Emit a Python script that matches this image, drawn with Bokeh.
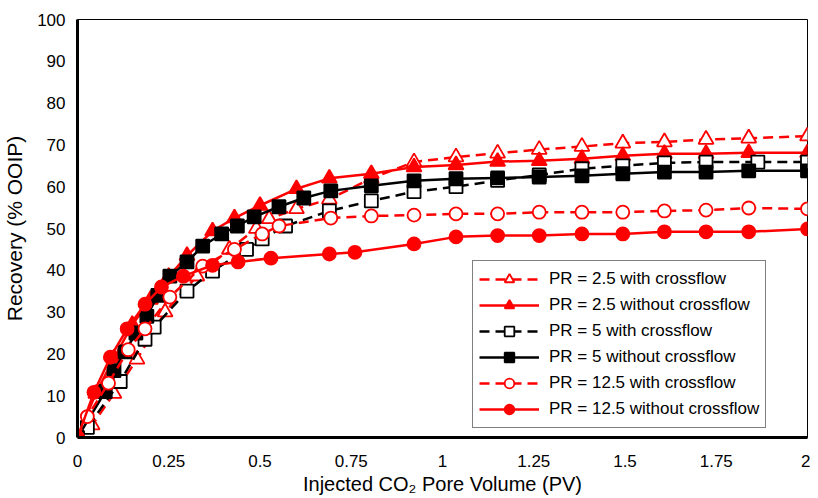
from bokeh.plotting import figure
from bokeh.models import FixedTicker, Legend, LegendItem, Range1d
from bokeh.embed import file_html
from bokeh.resources import INLINE

# ---- data ----
x_pr25_cf = [0, 0.04, 0.1, 0.163, 0.24, 0.327, 0.416, 0.49, 0.525, 0.6, 0.69, 0.805, 0.922, 1.037, 1.151, 1.265, 1.382, 1.494, 1.608, 1.722, 1.839, 2.0]
y_pr25_cf = [0, 3, 10.5, 18.7, 30, 38.6, 45, 50, 52.3, 54.7, 57, 62, 65.9, 67.1, 68, 68.9, 69.6, 70.4, 70.7, 71.3, 71.6, 72.1]

x_pr25_ncf = [0, 0.05, 0.1, 0.15, 0.2, 0.25, 0.3, 0.37, 0.43, 0.5, 0.6, 0.69, 0.805, 0.922, 1.037, 1.151, 1.265, 1.382, 1.494, 1.608, 1.722, 1.839, 2.0]
y_pr25_ncf = [0, 10.5, 19, 27, 33, 38.5, 43.5, 49.4, 52.5, 55.5, 59.5, 62, 63.1, 64.7, 65.2, 66, 66.2, 66.7, 67.4, 67.9, 67.9, 68.1, 68.1]

x_pr5_cf = [0, 0.027, 0.117, 0.185, 0.21, 0.3, 0.37, 0.463, 0.506, 0.57, 0.69, 0.805, 0.922, 1.037, 1.151, 1.265, 1.382, 1.494, 1.608, 1.722, 1.864, 2.0]
y_pr5_cf = [0, 2.4, 13.4, 23.5, 26.4, 35, 39.8, 45, 47.5, 50.6, 54.2, 56.6, 58.8, 60, 61.5, 62.8, 64.3, 65, 65.7, 65.9, 65.9, 65.9]

x_pr5_ncf = [0, 0.076, 0.1, 0.13, 0.16, 0.19, 0.22, 0.253, 0.3, 0.343, 0.395, 0.438, 0.484, 0.552, 0.62, 0.694, 0.805, 0.922, 1.037, 1.151, 1.265, 1.382, 1.494, 1.608, 1.722, 1.839, 2.0]
y_pr5_ncf = [0, 11, 16, 20.5, 25, 29, 34, 38.6, 42, 45.8, 48.7, 50.6, 52.8, 55.2, 57.3, 59, 60.2, 61.4, 61.9, 62.1, 62.3, 62.6, 63.1, 63.5, 63.5, 63.8, 63.8]

x_pr125_cf = [0, 0.027, 0.085, 0.139, 0.185, 0.253, 0.343, 0.43, 0.506, 0.552, 0.694, 0.805, 0.922, 1.037, 1.151, 1.265, 1.382, 1.494, 1.608, 1.722, 1.839, 2.0]
y_pr125_cf = [0, 5, 13, 21, 26, 33.6, 41, 45, 48.7, 50.6, 52.5, 53, 53.2, 53.5, 53.5, 53.9, 53.9, 53.9, 54.2, 54.4, 54.9, 54.7]

x_pr125_ncf = [0, 0.045, 0.09, 0.136, 0.185, 0.23, 0.29, 0.37, 0.44, 0.53, 0.69, 0.76, 0.922, 1.037, 1.151, 1.265, 1.382, 1.494, 1.608, 1.722, 1.839, 2.0]
y_pr125_ncf = [0, 10.8, 19.2, 26, 31.9, 36, 38.6, 41.2, 42, 42.9, 43.9, 44.3, 46.3, 48, 48.3, 48.3, 48.7, 48.7, 49.2, 49.2, 49.2, 49.9]

series_labels = ["PR = 2.5 with crossflow", "PR = 2.5 without crossflow",
                 "PR = 5 with crossflow", "PR = 5 without crossflow",
                 "PR = 12.5 with crossflow", "PR = 12.5 without crossflow"]

x_ticks = [0, 0.25, 0.5, 0.75, 1, 1.25, 1.5, 1.75, 2]
x_tick_labels = ["0", "0.25", "0.5", "0.75", "1", "1.25", "1.5", "1.75", "2"]
y_ticks = [0, 10, 20, 30, 40, 50, 60, 70, 80, 90, 100]

FONT = "Liberation Sans"

p = figure(frame_width=730, frame_height=418, output_backend="svg", toolbar_location=None,
           x_range=Range1d(0, 2), y_range=Range1d(0, 100),
           min_border_left=69, min_border_right=3, min_border_top=19, min_border_bottom=62)
p.background_fill_color = "white"
p.border_fill_color = "white"
p.grid.visible = False
p.outline_line_color = "black"
p.outline_line_width = 1

for ax in (p.xaxis[0], p.yaxis[0]):
    ax.axis_line_width = 3
    ax.axis_line_color = "black"
    ax.major_tick_out = 0
    ax.major_tick_in = 0
    ax.minor_tick_line_color = None
    ax.major_label_text_font = FONT
    ax.major_label_text_font_size = "17px"
    ax.major_label_text_color = "black"
    ax.axis_label_text_font = FONT
    ax.axis_label_text_font_style = "normal"
    ax.axis_label_text_color = "black"

p.xaxis.ticker = FixedTicker(ticks=x_ticks)
p.xaxis.major_label_overrides = {t: l for t, l in zip(x_ticks, x_tick_labels)}
p.xaxis.major_label_standoff = 17
p.xaxis.axis_label = "Injected CO\u2082 Pore Volume (PV)"
p.xaxis.axis_label_text_font_size = "20px"
p.xaxis.axis_label_standoff = 3

p.yaxis.ticker = FixedTicker(ticks=y_ticks)
p.yaxis.major_label_standoff = 12
p.yaxis.axis_label = "Recovery (% OOIP)"
p.yaxis.axis_label_text_font_size = "21px"
p.yaxis.axis_label_standoff = 8

specs = [
    (x_pr25_cf, y_pr25_cf, "red", "10 6", "triangle", "white", 15),
    (x_pr25_ncf, y_pr25_ncf, "red", "solid", "triangle", "red", 15),
    (x_pr5_cf, y_pr5_cf, "black", "10 6", "square", "white", 13),
    (x_pr5_ncf, y_pr5_ncf, "black", "solid", "square", "black", 13),
    (x_pr125_cf, y_pr125_cf, "red", "10 6", "circle", "white", 13),
    (x_pr125_ncf, y_pr125_ncf, "red", "solid", "circle", "red", 13),
]

items = []
for (xs, ys, col, dash, marker, fill, size), label in zip(specs, series_labels):
    ln = p.line(xs, ys, line_color=col, line_width=2.5, line_dash=dash)
    sc = p.scatter(xs, ys, marker=marker, size=size, fill_color=fill,
                   line_color=col, line_width=1.8)
    items.append(LegendItem(label=label, renderers=[ln, sc]))

legend = Legend(items=items, location=(395, 9))
legend.label_text_font = FONT
legend.label_text_font_size = "17px"
legend.label_text_color = "black"
legend.glyph_width = 60
legend.glyph_height = 24
legend.label_height = 24
legend.spacing = 2
legend.padding = 6
legend.margin = 0
legend.label_standoff = 10
legend.border_line_color = "black"
legend.border_line_width = 1
legend.background_fill_color = "white"
legend.background_fill_alpha = 1.0
p.add_layout(legend)

open("out.html", "w").write(file_html(p, INLINE))
